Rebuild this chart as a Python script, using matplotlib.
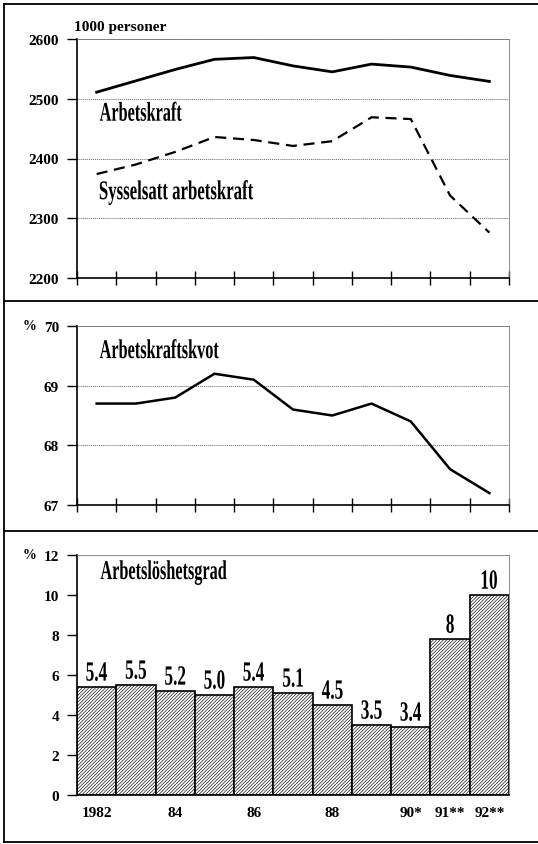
import matplotlib.pyplot as plt
import matplotlib.transforms as mtransforms
from matplotlib.font_manager import FontProperties
from matplotlib.lines import Line2D
from matplotlib.patches import PathPatch
from matplotlib.textpath import TextPath
import numpy as np

plt.rcParams["font.family"] = ["Liberation Serif", "DejaVu Serif"]
plt.rcParams["hatch.linewidth"] = 0.45

years = [1982, 1983, 1984, 1985, 1986, 1987, 1988, 1989, 1990, 1991, 1992]
arbetskraft = [2511, 2530, 2549, 2566, 2569, 2555, 2545, 2558, 2553, 2539, 2529]
sysselsatt = [2374, 2390, 2411, 2436, 2431, 2421, 2429, 2469, 2466, 2338, 2276]
kvot = [68.7, 68.7, 68.8, 69.2, 69.1, 68.6, 68.5, 68.7, 68.4, 67.6, 67.2]
arbetsloshet = [5.4, 5.5, 5.2, 5.0, 5.4, 5.1, 4.5, 3.5, 3.4, 7.8, 10.0]
bar_labels = ["5.4", "5.5", "5.2", "5.0", "5.4", "5.1", "4.5", "3.5", "3.4", "8", "10"]
year_ticks = [0, 2, 4, 6, 8, 9, 10]
year_ticklabels = ["1982", "84", "86", "88", "90*", "91**", "92**"]

x = np.arange(len(years))
W, H = 538, 845
DPI = 100
fig = plt.figure(figsize=(W / DPI, H / DPI), dpi=DPI)


def pos(top, bottom, left=77, right=509):
    return [left / W, 1 - bottom / H, (right - left) / W, (bottom - top) / H]


def style(ax, yticks, xticks=True):
    ax.set_xlim(-0.5, len(years) - 0.5)
    ax.set_yticks(yticks)
    ax.set_yticklabels([str(t) for t in yticks], fontsize=11, fontweight="bold")
    for s in ["top", "right"]:
        ax.spines[s].set_linewidth(0.6)
        ax.spines[s].set_color("#777777")
    for s in ["left", "bottom"]:
        ax.spines[s].set_linewidth(1.2)
    ax.yaxis.grid(True, linestyle=(0, (1, 1)), color="#666666", linewidth=0.7)
    ax.set_axisbelow(True)
    ax.tick_params(axis="y", length=7, width=1, direction="out", pad=6)
    if xticks:
        ax.set_xticks(np.arange(-0.5, len(years) + 0.5, 1))
        ax.set_xticklabels([])
        ax.tick_params(axis="x", length=10, width=1, direction="inout")


def narrow_text(ax, xd, yd, s, size, sx=0.62, ha="left", va="center"):
    # condensed serif look: draw text as a path squeezed horizontally
    prop = FontProperties(family="Liberation Serif", weight="bold")
    tp = TextPath((0, 0), s, size=size, prop=prop)
    bb = tp.get_extents()
    ox = {"left": -bb.x0, "center": -(bb.x0 + bb.x1) / 2}[ha]
    oy = {"center": -(bb.y0 + bb.y1) / 2, "bottom": -bb.y0}[va]
    tr = (mtransforms.Affine2D().translate(ox, oy).scale(sx * DPI / 72, DPI / 72)
          + mtransforms.ScaledTranslation(xd, yd, ax.transData))
    ax.add_patch(PathPatch(tp, transform=tr, facecolor="black", edgecolor="none",
                           clip_on=False))


# panel 1
ax1 = fig.add_axes(pos(40, 279))
ax1.plot(x, arbetskraft, color="black", linewidth=2)
ax1.plot(x, sysselsatt, color="black", linewidth=1.6, linestyle=(0, (5, 3)))
ax1.set_ylim(2200, 2600)
style(ax1, [2200, 2300, 2400, 2500, 2600])
narrow_text(ax1, 0.08, 2479, "Arbetskraft", 19.5, sx=0.6)
narrow_text(ax1, 0.08, 2343, "Sysselsatt arbetskraft", 19.5, sx=0.62)
fig.text(74 / W, 1 - 27 / H, "1000 personer", fontsize=11, fontweight="bold",
         va="center", ha="left")

# panel 2
ax2 = fig.add_axes(pos(327, 506))
ax2.plot(x, kvot, color="black", linewidth=1.8)
ax2.set_ylim(67, 70)
style(ax2, [67, 68, 69, 70])
narrow_text(ax2, 0.08, 69.62, "Arbetskraftskvot", 19.5, sx=0.6)
fig.text(29 / W, 1 - 327 / H, "%", fontsize=10, fontweight="bold", va="center", ha="center")

# panel 3
ax3 = fig.add_axes(pos(556, 796))
ax3.bar(x, arbetsloshet, width=1.0, color="white", edgecolor="black",
        linewidth=1.2, hatch="/" * 10)
ax3.set_ylim(0, 12)
style(ax3, [0, 2, 4, 6, 8, 10, 12], xticks=False)
ax3.yaxis.grid(False)
ax3.set_xticks(year_ticks)
ax3.set_xticklabels(year_ticklabels, fontsize=11, fontweight="bold")
ax3.tick_params(axis="x", length=0, pad=8)
for xi, v, lab in zip(x, arbetsloshet, bar_labels):
    narrow_text(ax3, xi, v + 0.3, lab, 20, sx=0.62, ha="center", va="bottom")
narrow_text(ax3, 0.1, 11.12, "Arbetslöshetsgrad", 19.5, sx=0.6)
fig.text(29 / W, 1 - 556 / H, "%", fontsize=10, fontweight="bold", va="center", ha="center")

# frame and separators
for yy in [5, 302, 532, 843]:
    fig.add_artist(Line2D([4 / W, 1], [1 - yy / H] * 2, color="black", linewidth=1.3))
fig.add_artist(Line2D([4 / W] * 2, [1 - 5 / H, 1 - 843 / H], color="black", linewidth=1.3))

fig.savefig("out.png", dpi=DPI)
